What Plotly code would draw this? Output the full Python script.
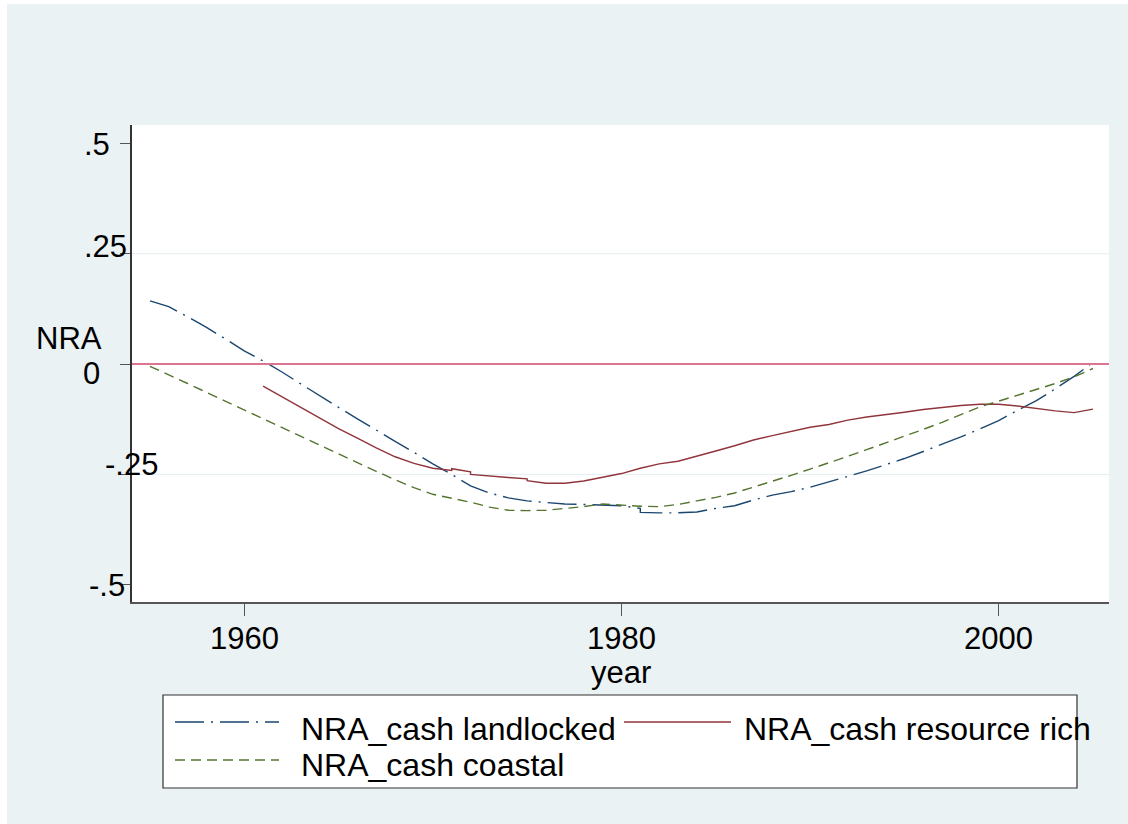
import plotly.graph_objects as go

# ---------------- data ----------------
years_landlocked = [1955, 1956, 1957, 1958, 1959, 1960, 1961, 1962, 1963, 1964,
                    1965, 1966, 1967, 1968, 1969, 1970, 1971, 1972, 1973, 1974,
                    1975, 1976, 1977, 1978, 1979, 1980, 1981, 1981, 1982, 1983,
                    1984, 1985, 1986, 1987, 1988, 1989, 1990, 1991, 1992, 1993,
                    1994, 1995, 1996, 1997, 1998, 1999, 2000, 2001, 2002, 2003,
                    2004, 2005]
nra_landlocked = [0.143, 0.130, 0.107, 0.083, 0.057, 0.030, 0.007, -0.018, -0.045, -0.072,
                  -0.098, -0.124, -0.150, -0.175, -0.200, -0.226, -0.250, -0.276, -0.292, -0.303,
                  -0.310, -0.314, -0.317, -0.318, -0.319, -0.321, -0.327, -0.336, -0.337, -0.337,
                  -0.335, -0.327, -0.321, -0.308, -0.297, -0.289, -0.279, -0.267, -0.255, -0.242,
                  -0.228, -0.214, -0.198, -0.182, -0.165, -0.147, -0.128, -0.105, -0.083, -0.056,
                  -0.028, 0.004]

years_resource = [1961, 1962, 1963, 1964, 1965, 1966, 1967, 1968, 1969, 1970,
                  1971, 1971, 1972, 1972, 1973, 1974, 1975, 1975, 1976, 1977,
                  1978, 1979, 1980, 1981, 1982, 1983, 1984, 1985, 1986, 1987,
                  1988, 1989, 1990, 1991, 1992, 1993, 1994, 1995, 1996, 1997,
                  1998, 1999, 2000, 2001, 2002, 2003, 2004, 2005]
nra_resource = [-0.050, -0.074, -0.098, -0.122, -0.146, -0.168, -0.190, -0.210, -0.225, -0.236,
                -0.241, -0.237, -0.244, -0.250, -0.254, -0.257, -0.260, -0.264, -0.270, -0.270,
                -0.265, -0.257, -0.248, -0.236, -0.226, -0.220, -0.209, -0.197, -0.185, -0.172,
                -0.162, -0.153, -0.143, -0.137, -0.127, -0.120, -0.115, -0.109, -0.103, -0.098,
                -0.094, -0.091, -0.091, -0.095, -0.101, -0.106, -0.110, -0.102]

years_coastal = list(range(1955, 2006))
nra_coastal = [-0.005, -0.024, -0.044, -0.064, -0.084, -0.104, -0.124, -0.144, -0.164, -0.184,
               -0.204, -0.224, -0.243, -0.262, -0.280, -0.295, -0.304, -0.313, -0.324, -0.331,
               -0.332, -0.331, -0.327, -0.323, -0.317, -0.320, -0.322, -0.323, -0.318, -0.310,
               -0.302, -0.292, -0.279, -0.265, -0.252, -0.238, -0.224, -0.209, -0.194, -0.179,
               -0.164, -0.148, -0.132, -0.114, -0.097, -0.084, -0.071, -0.058, -0.044, -0.029,
               -0.010]

series_names = ["NRA_cash landlocked", "NRA_cash resource rich", "NRA_cash coastal"]
y_tick_values = [0.5, 0.25, 0, -0.25, -0.5]
y_tick_labels = [".5", ".25", "0", "-.25", "-.5"]
x_tick_values = [1960, 1980, 2000]
x_tick_labels = ["1960", "1980", "2000"]
y_title = "NRA"
x_title = "year"

# ---------------- style ----------------
W, H = 1128, 824
L, R, T, B = 132, 1109, 125, 602          # plot area in pixels
FONT = "Liberation Sans, Arial, Helvetica, sans-serif"
FS = 31
FS_LEG = 32
BG = "#EAF2F3"
C_BLUE, C_RED, C_GREEN = "#1A476F", "#90353B", "#55752F"
DASH_BLUE = "29px,7px,2px,7px"
DASH_GREEN = "10px,6px"


def px_x(p):
    return (p - L) / (R - L)


def px_y(p):
    return (B - p) / (B - T)


fig = go.Figure()
fig.add_trace(go.Scatter(x=years_landlocked, y=nra_landlocked, mode="lines",
                         name=series_names[0],
                         line=dict(color=C_BLUE, width=1.4, dash=DASH_BLUE)))
fig.add_trace(go.Scatter(x=years_resource, y=nra_resource, mode="lines",
                         name=series_names[1],
                         line=dict(color=C_RED, width=1.4)))
fig.add_trace(go.Scatter(x=years_coastal, y=nra_coastal, mode="lines",
                         name=series_names[2],
                         line=dict(color=C_GREEN, width=1.4, dash=DASH_GREEN)))

shapes = []
# white strips at the top/left edge of the image
shapes.append(dict(type="rect", xref="paper", yref="paper", x0=px_x(0), x1=px_x(7),
                   y0=px_y(H), y1=px_y(0), fillcolor="white", line=dict(width=0), layer="below"))
shapes.append(dict(type="rect", xref="paper", yref="paper", x0=px_x(0), x1=px_x(W),
                   y0=px_y(4), y1=px_y(0), fillcolor="white", line=dict(width=0), layer="below"))
# zero reference line
shapes.append(dict(type="line", xref="paper", yref="y", x0=0, x1=1, y0=0, y1=0,
                   line=dict(color="#DC7592", width=2)))
# legend box
lx0, lx1, ly0, ly1 = 163, 1077, 695, 788
shapes.append(dict(type="rect", xref="paper", yref="paper", x0=px_x(lx0), x1=px_x(lx1),
                   y0=px_y(ly1), y1=px_y(ly0), fillcolor="white",
                   line=dict(color="#333333", width=1.2), layer="below"))
legend_samples = [  # (x0, x1, y, color, dash)
    (175, 279, 722, C_BLUE, DASH_BLUE),
    (624, 731, 722, C_RED, "solid"),
    (175, 279, 760, C_GREEN, DASH_GREEN),
]
for (a, b, yy, col, dsh) in legend_samples:
    shapes.append(dict(type="line", xref="paper", yref="paper", x0=px_x(a), x1=px_x(b),
                       y0=px_y(yy), y1=px_y(yy), line=dict(color=col, width=1.4, dash=dsh)))

annotations = []
legend_text_pos = [(300, 729), (743, 729), (300, 765)]
for name, (tx, ty) in zip(series_names, legend_text_pos):
    annotations.append(dict(text=name, xref="paper", yref="paper", x=px_x(tx), y=px_y(ty),
                            xanchor="left", yanchor="middle", showarrow=False, borderpad=0,
                            font=dict(family=FONT, size=FS_LEG, color="black")))
# y tick labels (as in the reference, placed slightly irregularly)
ytick_px = [(83, 144), (83, 246), (82, 373), (104, 464), (88, 585)]
for lab, (tx, ty) in zip(y_tick_labels, ytick_px):
    annotations.append(dict(text=lab, xref="paper", yref="paper", x=px_x(tx), y=px_y(ty),
                            xanchor="left", yanchor="middle", showarrow=False, borderpad=0,
                            font=dict(family=FONT, size=FS, color="black")))
# x tick labels, centred under their ticks
for val, lab in zip(x_tick_values, x_tick_labels):
    annotations.append(dict(text=lab, xref="x", yref="paper", x=val, y=px_y(638),
                            xanchor="center", yanchor="middle", showarrow=False, borderpad=0,
                            font=dict(family=FONT, size=FS, color="black")))
annotations.append(dict(text=y_title, xref="paper", yref="paper", x=px_x(103), y=px_y(338),
                        xanchor="right", yanchor="middle", showarrow=False, borderpad=0,
                        font=dict(family=FONT, size=FS, color="black")))
annotations.append(dict(text=x_title, xref="paper", yref="paper", x=px_x(621), y=px_y(672),
                        xanchor="center", yanchor="middle", showarrow=False, borderpad=0,
                        font=dict(family=FONT, size=FS, color="black")))

fig.update_layout(
    width=W, height=H,
    margin=dict(l=L, r=W - R, t=T, b=H - B, pad=0),
    paper_bgcolor=BG, plot_bgcolor="white",
    showlegend=False,
    shapes=shapes, annotations=annotations,
    font=dict(family=FONT, size=FS, color="black"),
)
fig.update_xaxes(range=[1954.05, 2005.85], tickvals=x_tick_values, showticklabels=False,
                 ticks="outside", ticklen=12, tickcolor="#555555", tickwidth=1,
                 showline=True, linecolor="#555555", linewidth=1.5,
                 showgrid=False, zeroline=False)
fig.update_yaxes(range=[-0.539, 0.5416], tickvals=y_tick_values, showticklabels=False,
                 ticks="outside", ticklen=10, tickcolor="#555555", tickwidth=1,
                 showline=True, linecolor="#333333", linewidth=1.5,
                 showgrid=False, zeroline=False)
# faint grid lines at the inner ticks
for gv in [0.25, -0.25]:
    fig.add_shape(type="line", xref="paper", yref="y", x0=0, x1=1, y0=gv, y1=gv,
                  line=dict(color="#E6EEF0", width=1), layer="below")

fig.write_html("out.html", config={"displayModeBar": False},
               post_script="document.body.style.margin='0';"
               "document.body.style.overflow='hidden';")
